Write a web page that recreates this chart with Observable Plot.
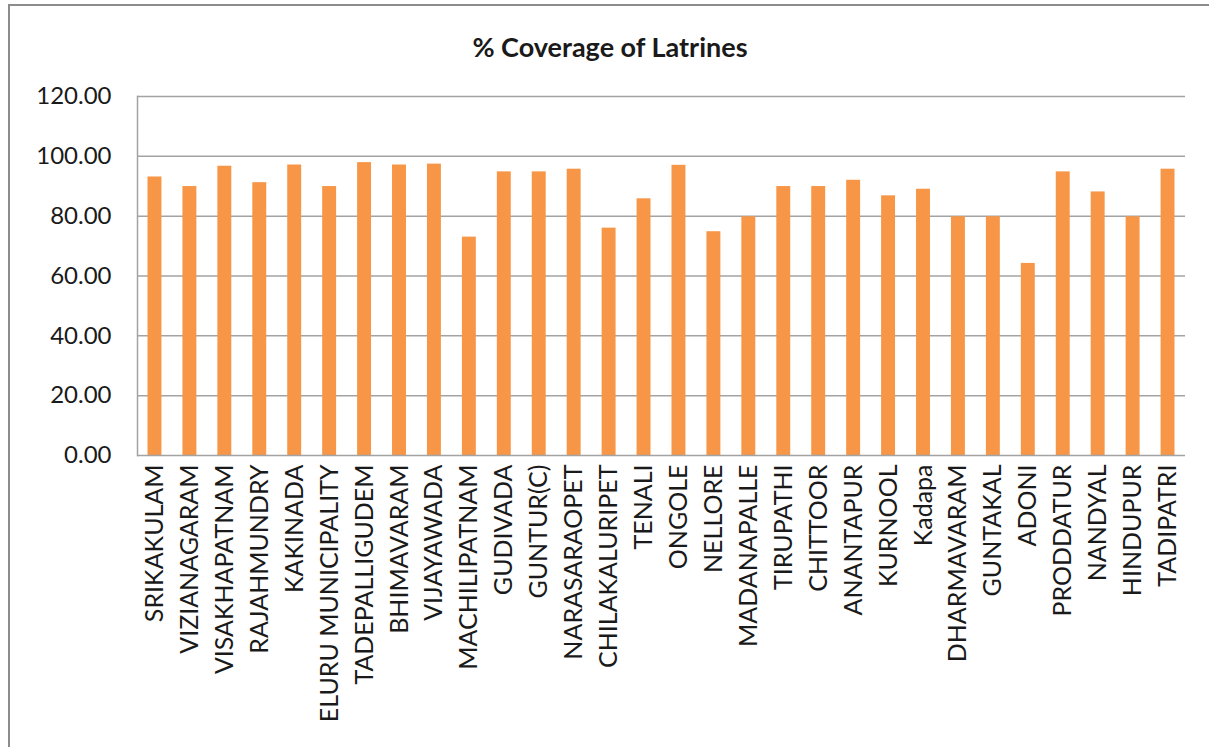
<!DOCTYPE html>
<html>
<head>
<meta charset="utf-8">
<script src="https://cdn.jsdelivr.net/npm/d3@7"></script>
<script src="https://cdn.jsdelivr.net/npm/@observablehq/plot@0.6"></script>
<style>
  html, body { margin: 0; padding: 0; background: #fff; }
  #wrap { position: relative; width: 1209px; height: 747px; overflow: hidden; }
  #border { position: absolute; left: 8px; top: 4px; width: 1300px; height: 900px; border-left: 2px solid #8c8c8c; border-top: 2px solid #8c8c8c; }
  #title { position: absolute; left: 0; width: 1220px; top: 30px; text-align: center; font-family: Lato, sans-serif; font-weight: bold; font-size: 27px; color: #1a1a1a; }
  #chart { position: absolute; left: 0; top: 0; }
</style>
</head>
<body>
<div id="wrap">
  <div id="border"></div>
  <div id="chart"></div>
  <div id="title">% Coverage of Latrines</div>
</div>
<script>
const cities = ["SRIKAKULAM","VIZIANAGARAM","VISAKHAPATNAM","RAJAHMUNDRY","KAKINADA","ELURU MUNICIPALITY","TADEPALLIGUDEM","BHIMAVARAM","VIJAYAWADA","MACHILIPATNAM","GUDIVADA","GUNTUR(C)","NARASARAOPET","CHILAKALURIPET","TENALI","ONGOLE","NELLORE","MADANAPALLE","TIRUPATHI","CHITTOOR","ANANTAPUR","KURNOOL","Kadapa","DHARMAVARAM","GUNTAKAL","ADONI","PRODDATUR","NANDYAL","HINDUPUR","TADIPATRI"];
const coverage = [93.1,89.9,96.7,91.2,97.1,89.9,97.9,97.1,97.4,73.0,94.8,94.8,95.7,76.0,85.8,97.0,74.8,79.8,89.9,89.9,92.0,86.8,89.0,79.8,79.8,64.2,94.8,88.1,79.8,95.7];
const yTicks = [0,20,40,60,80,100,120];

const data = cities.map((c, i) => ({city: c, value: coverage[i]}));

const chart = Plot.plot({
  width: 1209,
  height: 747,
  marginTop: 96,
  marginLeft: 137,
  marginRight: 24,
  marginBottom: 292,
  style: {fontFamily: "Lato, sans-serif", color: "#1a1a1a", background: "transparent"},
  x: {domain: cities, padding: 0, round: false, label: null},
  y: {domain: [0, 120], label: null},
  marks: [
    Plot.gridY(yTicks.filter(d => d > 0), {stroke: "#a3a3a3", strokeOpacity: 1, strokeWidth: 1.5}),
    Plot.frame({anchor: "left", stroke: "#a3a3a3", strokeWidth: 1.5}),
    Plot.barY(data, {x: "city", y: "value", fill: "#F79646", insetLeft: 10.5, insetRight: 10.5}),
    Plot.ruleY([0], {stroke: "#a3a3a3", strokeWidth: 1.5}),
    Plot.axisY({ticks: yTicks, tickFormat: d => d.toFixed(2), tickSize: 0, tickPadding: 26, fontSize: 24, label: null}),
    Plot.axisX({tickRotate: -90, tickSize: 0, tickPadding: 9, fontSize: 25, label: null})
  ]
});
document.getElementById("chart").appendChild(chart);
</script>
</body>
</html>
